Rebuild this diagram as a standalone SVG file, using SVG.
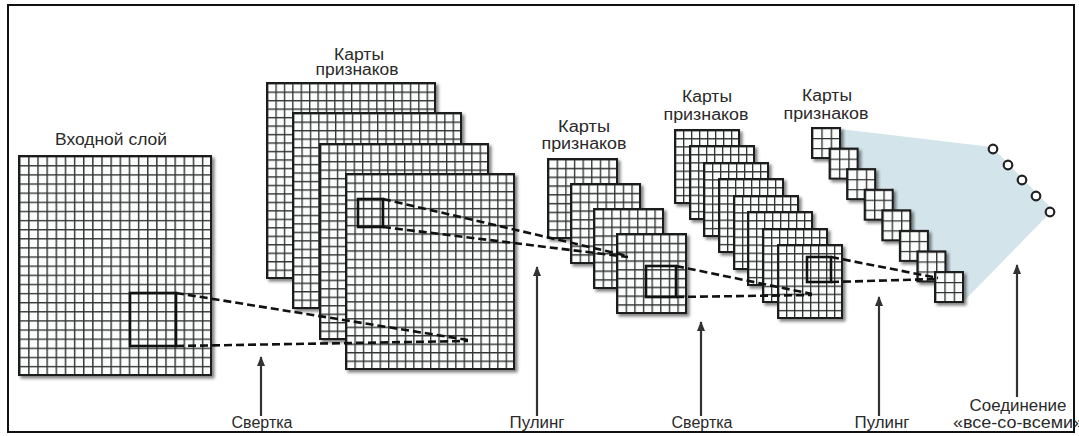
<svg xmlns="http://www.w3.org/2000/svg" width="1079" height="436" viewBox="0 0 1079 436">
<style>
.lbl{font-family:"Liberation Sans",Arial,sans-serif;font-size:16px;fill:#2a2a2a;text-anchor:middle}
.bd{stroke:#1e1e1e;stroke-width:2}
.ker{fill:none;stroke:#111;stroke-width:2.6}
.dash{fill:none;stroke:#111;stroke-width:2.6;stroke-dasharray:8 4}
.arr{fill:none;stroke:#333;stroke-width:2.2;marker-end:url(#ah)}
.dot{fill:#fff;stroke:#222;stroke-width:2.2}
</style>
<defs>
<filter id="sh" x="-10%" y="-10%" width="130%" height="130%">
<feDropShadow dx="2.5" dy="2.5" stdDeviation="1.4" flood-color="#000" flood-opacity="0.5"/>
</filter>
<pattern id="pIn" patternUnits="userSpaceOnUse" width="9.143" height="9.125"><rect width="9.143" height="9.125" fill="#fbfdfd"/><path d="M0 0H9.143M0 0V9.125" stroke="#333" stroke-width="2.9"/></pattern>
<pattern id="p1" patternUnits="userSpaceOnUse" width="8.4" height="8.478"><rect width="8.4" height="8.478" fill="#fbfdfd"/><path d="M0 0H8.4M0 0V8.478" stroke="#333" stroke-width="2.7"/></pattern>
<pattern id="p2" patternUnits="userSpaceOnUse" width="8.625" height="8.778"><rect width="8.625" height="8.778" fill="#fbfdfd"/><path d="M0 0H8.625M0 0V8.778" stroke="#333" stroke-width="2.7"/></pattern>
<pattern id="p3" patternUnits="userSpaceOnUse" width="8" height="8.111"><rect width="8" height="8.111" fill="#fbfdfd"/><path d="M0 0H8M0 0V8.111" stroke="#333" stroke-width="2.7"/></pattern>
<pattern id="p4" patternUnits="userSpaceOnUse" width="9.333" height="10"><rect width="9.333" height="10" fill="#fbfdfd"/><path d="M0 0H9.333M0 0V10" stroke="#333" stroke-width="2.7"/></pattern>
<marker id="ah" viewBox="0 0 10 8" refX="9" refY="4" markerWidth="10" markerHeight="8" markerUnits="userSpaceOnUse" orient="auto"><path d="M0 0L10 4L0 8z" fill="#333"/></marker>
</defs>

<rect x="8" y="5" width="1066" height="427" fill="#fff" stroke="#111" stroke-width="2"/>

<g id="input-layer">
<text class="lbl" x="111" y="145" textLength="112" lengthAdjust="spacingAndGlyphs">Входной слой</text>
<g transform="translate(19,156)" filter="url(#sh)"><rect width="192" height="219" fill="url(#pIn)" class="bd"/></g>
<rect class="ker" x="130" y="293" width="46" height="53"/>
</g>

<g id="fmaps-1">
<text class="lbl" x="359" y="60" textLength="50" lengthAdjust="spacingAndGlyphs">Карты</text>
<text class="lbl" x="357" y="75" textLength="83" lengthAdjust="spacingAndGlyphs">признаков</text>
<g transform="translate(267,83)" filter="url(#sh)"><rect width="168" height="195" fill="url(#p1)" class="bd"/></g>
<g transform="translate(293,113)" filter="url(#sh)"><rect width="168" height="195" fill="url(#p1)" class="bd"/></g>
<g transform="translate(320,144)" filter="url(#sh)"><rect width="168" height="195" fill="url(#p1)" class="bd"/></g>
<g transform="translate(346,174)" filter="url(#sh)"><rect width="168" height="195" fill="url(#p1)" class="bd"/></g>
<rect class="ker" x="358" y="199" width="25" height="28"/>
</g>

<g id="fmaps-2">
<text class="lbl" x="584" y="132" textLength="52" lengthAdjust="spacingAndGlyphs">Карты</text>
<text class="lbl" x="584" y="149" textLength="85" lengthAdjust="spacingAndGlyphs">признаков</text>
<g transform="translate(548,159)" filter="url(#sh)"><rect width="69" height="79" fill="url(#p2)" class="bd"/></g>
<g transform="translate(571,184)" filter="url(#sh)"><rect width="69" height="79" fill="url(#p2)" class="bd"/></g>
<g transform="translate(594,209)" filter="url(#sh)"><rect width="69" height="79" fill="url(#p2)" class="bd"/></g>
<g transform="translate(617,234)" filter="url(#sh)"><rect width="69" height="79" fill="url(#p2)" class="bd"/></g>
<rect class="ker" x="646" y="266" width="30" height="31"/>
</g>

<g id="fmaps-3">
<text class="lbl" x="707" y="102" textLength="50" lengthAdjust="spacingAndGlyphs">Карты</text>
<text class="lbl" x="706" y="120" textLength="85" lengthAdjust="spacingAndGlyphs">признаков</text>
<g transform="translate(675,130)" filter="url(#sh)"><rect width="64" height="73" fill="url(#p3)" class="bd"/></g>
<g transform="translate(690,146)" filter="url(#sh)"><rect width="64" height="73" fill="url(#p3)" class="bd"/></g>
<g transform="translate(704,163)" filter="url(#sh)"><rect width="64" height="73" fill="url(#p3)" class="bd"/></g>
<g transform="translate(719,179)" filter="url(#sh)"><rect width="64" height="73" fill="url(#p3)" class="bd"/></g>
<g transform="translate(734,196)" filter="url(#sh)"><rect width="64" height="73" fill="url(#p3)" class="bd"/></g>
<g transform="translate(748,212)" filter="url(#sh)"><rect width="64" height="73" fill="url(#p3)" class="bd"/></g>
<g transform="translate(763,229)" filter="url(#sh)"><rect width="64" height="73" fill="url(#p3)" class="bd"/></g>
<g transform="translate(778,245)" filter="url(#sh)"><rect width="64" height="73" fill="url(#p3)" class="bd"/></g>
<rect class="ker" x="807" y="257" width="24" height="25"/>
</g>

<g id="fully-connected">
<polygon fill="#d3e5ea" points="840,129 992,147 1053,210 964,301 964,272 946,272 946,252 928,252 928,232 910,232 910,210 891,210 891,188 875,188 875,168 856,168 856,148 840,148"/>
<circle class="dot" cx="993" cy="149" r="4.3"/>
<circle class="dot" cx="1008" cy="165" r="4.3"/>
<circle class="dot" cx="1022" cy="180" r="4.3"/>
<circle class="dot" cx="1036" cy="196" r="4.3"/>
<circle class="dot" cx="1050" cy="212" r="4.3"/>
</g>

<g id="fmaps-4">
<text class="lbl" x="827" y="101" textLength="50" lengthAdjust="spacingAndGlyphs">Карты</text>
<text class="lbl" x="826" y="119" textLength="85" lengthAdjust="spacingAndGlyphs">признаков</text>
<g transform="translate(812,128)" filter="url(#sh)"><rect width="28" height="30" fill="url(#p4)" class="bd"/></g>
<g transform="translate(829.6,148.6)" filter="url(#sh)"><rect width="28" height="30" fill="url(#p4)" class="bd"/></g>
<g transform="translate(847.1,169.1)" filter="url(#sh)"><rect width="28" height="30" fill="url(#p4)" class="bd"/></g>
<g transform="translate(864.7,189.7)" filter="url(#sh)"><rect width="28" height="30" fill="url(#p4)" class="bd"/></g>
<g transform="translate(882.3,210.3)" filter="url(#sh)"><rect width="28" height="30" fill="url(#p4)" class="bd"/></g>
<g transform="translate(899.9,230.9)" filter="url(#sh)"><rect width="28" height="30" fill="url(#p4)" class="bd"/></g>
<g transform="translate(917.4,251.4)" filter="url(#sh)"><rect width="28" height="30" fill="url(#p4)" class="bd"/></g>
<g transform="translate(935,272)" filter="url(#sh)"><rect width="28" height="30" fill="url(#p4)" class="bd"/></g>
</g>

<g id="connectors">
<line class="dash" x1="176" y1="293" x2="468" y2="340"/>
<line class="dash" x1="176" y1="346" x2="468" y2="341"/>
<line class="dash" x1="383" y1="199" x2="628" y2="256"/>
<line class="dash" x1="383" y1="227" x2="628" y2="257"/>
<line class="dash" x1="676" y1="266" x2="812" y2="294"/>
<line class="dash" x1="676" y1="297" x2="812" y2="295"/>
<line class="dash" x1="831" y1="257" x2="938" y2="278"/>
<line class="dash" x1="831" y1="282" x2="938" y2="279"/>
<line class="arr" x1="261" y1="416" x2="261" y2="357"/>
<line class="arr" x1="537" y1="416" x2="537" y2="267"/>
<line class="arr" x1="701" y1="416" x2="701" y2="322"/>
<line class="arr" x1="879" y1="416" x2="879" y2="297"/>
<line class="arr" x1="1017" y1="397" x2="1017" y2="265"/>
</g>

<g id="labels">
<text class="lbl" x="262" y="428" textLength="61" lengthAdjust="spacingAndGlyphs">Свертка</text>
<text class="lbl" x="537" y="428" textLength="55" lengthAdjust="spacingAndGlyphs">Пулинг</text>
<text class="lbl" x="702" y="428" textLength="61" lengthAdjust="spacingAndGlyphs">Свертка</text>
<text class="lbl" x="882" y="428" textLength="55" lengthAdjust="spacingAndGlyphs">Пулинг</text>
<text class="lbl" x="1018" y="411" textLength="97" lengthAdjust="spacingAndGlyphs">Соединение</text>
<text class="lbl" x="1018" y="428" textLength="130" lengthAdjust="spacingAndGlyphs">«все-со-всеми»</text>
</g>
</svg>
